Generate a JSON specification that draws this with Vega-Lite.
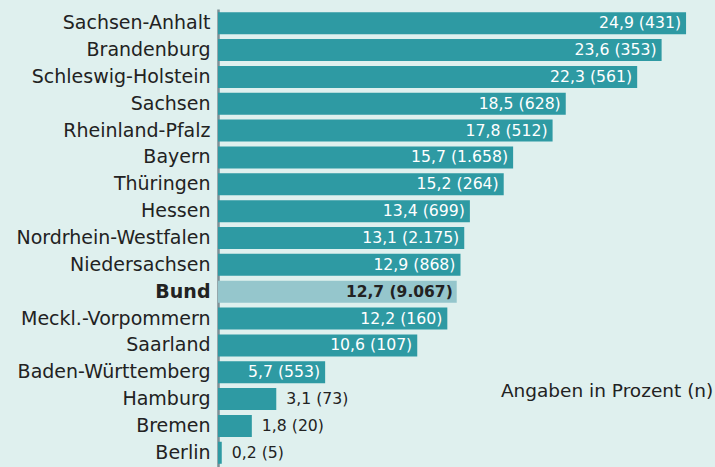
{
  "$schema": "https://vega.github.io/schema/vega-lite/v6.json",
  "autosize": "none",
  "padding": {"left": 218, "top": 9, "right": 0, "bottom": 0},
  "width": 497,
  "height": 458,
  "background": "#dff0ee",
  "config": {"view": {"stroke": null}, "font": "DejaVu Sans"},
  "datasets": {
    "laender": [
      {"land": "Sachsen-Anhalt", "value": 24.9, "label": "24,9 (431)"},
      {"land": "Brandenburg", "value": 23.6, "label": "23,6 (353)"},
      {"land": "Schleswig-Holstein", "value": 22.3, "label": "22,3 (561)"},
      {"land": "Sachsen", "value": 18.5, "label": "18,5 (628)"},
      {"land": "Rheinland-Pfalz", "value": 17.8, "label": "17,8 (512)"},
      {"land": "Bayern", "value": 15.7, "label": "15,7 (1.658)"},
      {"land": "Thüringen", "value": 15.2, "label": "15,2 (264)"},
      {"land": "Hessen", "value": 13.4, "label": "13,4 (699)"},
      {"land": "Nordrhein-Westfalen", "value": 13.1, "label": "13,1 (2.175)"},
      {"land": "Niedersachsen", "value": 12.9, "label": "12,9 (868)"},
      {"land": "Bund", "value": 12.7, "label": "12,7 (9.067)"},
      {"land": "Meckl.-Vorpommern", "value": 12.2, "label": "12,2 (160)"},
      {"land": "Saarland", "value": 10.6, "label": "10,6 (107)"},
      {"land": "Baden-Württemberg", "value": 5.7, "label": "5,7 (553)"},
      {"land": "Hamburg", "value": 3.1, "label": "3,1 (73)"},
      {"land": "Bremen", "value": 1.8, "label": "1,8 (20)"},
      {"land": "Berlin", "value": 0.2, "label": "0,2 (5)"}
    ],
    "notiz": [{"note": "Angaben in Prozent (n)"}]
  },
  "layer": [
    {"data": {"name": "laender"},
     "mark": {"type": "bar"},
     "encoding": {
       "y": {"field": "land", "type": "nominal", "sort": null,
         "scale": {"paddingInner": 0.18, "paddingOuter": 0.12},
         "axis": {"title": null, "ticks": false, "labelFontSize": 19, "labelColor": "#222222", "labelLimit": 260,
           "labelPadding": 8, "domainColor": "#7d8f95", "domainWidth": 2.5, "labelFont": "DejaVu Sans",
           "labelFontWeight": {"condition": {"test": "datum.value == 'Bund'", "value": "bold"}, "value": "normal"}}},
       "x": {"field": "value", "type": "quantitative", "scale": {"domain": [0, 26.44], "nice": false, "zero": true}, "axis": null},
       "color": {"condition": {"test": "datum.land == 'Bund'", "value": "#95c6cc"}, "value": "#2e9aa3"}}},
    {"data": {"name": "laender"},
     "transform": [{"filter": "datum.value >= 4 && datum.land != 'Bund'"}],
     "mark": {"type": "text", "align": "right", "dx": -5, "fontSize": 15.7, "color": "white"},
     "encoding": {"y": {"field": "land", "type": "nominal", "sort": null}, "x": {"field": "value", "type": "quantitative"}, "text": {"field": "label"}}},
    {"data": {"name": "laender"},
     "transform": [{"filter": "datum.land == 'Bund'"}],
     "mark": {"type": "text", "align": "right", "dx": -4, "fontSize": 15.5, "color": "#222222", "fontWeight": "bold"},
     "encoding": {"y": {"field": "land", "type": "nominal", "sort": null}, "x": {"field": "value", "type": "quantitative"}, "text": {"field": "label"}}},
    {"data": {"name": "laender"},
     "transform": [{"filter": "datum.value < 4"}],
     "mark": {"type": "text", "align": "left", "dx": 10, "fontSize": 15.7, "color": "#222222"},
     "encoding": {"y": {"field": "land", "type": "nominal", "sort": null}, "x": {"field": "value", "type": "quantitative"}, "text": {"field": "label"}}},
    {"data": {"name": "notiz"},
     "mark": {"type": "text", "align": "right", "baseline": "middle", "dy": -8, "fontSize": 18.5, "color": "#222222"},
     "encoding": {"text": {"field": "note", "type": "nominal"}, "x": {"datum": 26.35}, "y": {"datum": "Hamburg"}}}
  ]
}
